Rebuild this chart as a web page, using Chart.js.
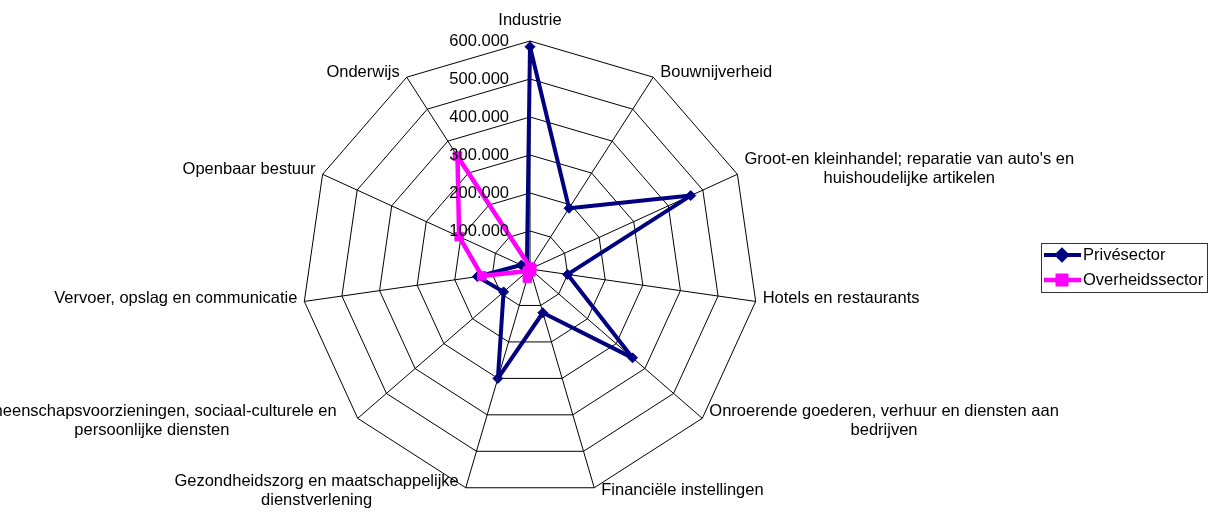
<!DOCTYPE html>
<html>
<head>
<meta charset="utf-8">
<script src="https://cdn.jsdelivr.net/npm/chart.js@4/dist/chart.umd.min.js"></script>
<style>
  html, body { margin: 0; padding: 0; background: #fff; }
  #wrap { width: 1211px; height: 512px; position: relative; }
</style>
</head>
<body>
<div id="wrap"><canvas id="c"></canvas></div>
<script>
// ---- data ----
const categories = [
  'Industrie',
  'Bouwnijverheid',
  ['Groot-en kleinhandel; reparatie van auto\'s en', 'huishoudelijke artikelen'],
  'Hotels en restaurants',
  ['Onroerende goederen, verhuur en diensten aan', 'bedrijven'],
  'Financiële instellingen',
  ['Gezondheidszorg en maatschappelijke', 'dienstverlening'],
  ['Gemeenschapsvoorzieningen, sociaal-culturele en', 'persoonlijke diensten'],
  'Vervoer, opslag en communicatie',
  'Openbaar bestuur',
  'Onderwijs'
];
const seriesNames = ['Privésector', 'Overheidssector'];
const priveValues = [585000, 190000, 465000, 100000, 357000, 120000, 300000, 92000, 140000, 25000, 15000];
const overheidValues = [5000, 3000, 5000, 2000, 5000, 8000, 25000, 8000, 128000, 205000, 353000];
const tickValues = [100000, 200000, 300000, 400000, 500000, 600000];
const tickLabels = ['100.000', '200.000', '300.000', '400.000', '500.000', '600.000'];

// ---- styling ----
const FONT = '16.5px "Liberation Sans", Arial, sans-serif';
const labelNudge = { 7: -14 };

const pointLabelPlugin = {
  id: 'pointLabelPlugin',
  afterDraw(chart) {
    const s = chart.scales.r;
    const ctx = chart.ctx;
    ctx.save();
    ctx.font = FONT;
    ctx.fillStyle = '#000';
    ctx.textBaseline = 'middle';
    ctx.textAlign = 'center';
    const R = s.drawingArea;
    const n = categories.length;
    const lh = 19;
    categories.forEach((lab, i) => {
      const lines = Array.isArray(lab) ? lab : [lab];
      const p = s.getPointPosition(i, R);
      const ang = i * 360 / n;
      const c = Math.cos(ang * Math.PI / 180);
      const bw = Math.max(...lines.map(l => ctx.measureText(l).width));
      let cx, cy;
      if (i === 0) { cx = p.x; cy = p.y - 21; }
      else {
        cx = ang < 180 ? p.x + 7 + bw / 2 : p.x - 7 - bw / 2;
        cy = p.y + (c > 0.3 ? -5 : (c < -0.3 ? 3 : -3));
      }
      cx += labelNudge[i] || 0;
      lines.forEach((l, k) => ctx.fillText(l, cx, cy + (k - (lines.length - 1) / 2) * lh));
    });
    ctx.restore();
  }
};

const tickLabelPlugin = {
  id: 'tickLabelPlugin',
  afterDatasetsDraw(chart) {
    const s = chart.scales.r;
    const ctx = chart.ctx;
    ctx.save();
    ctx.font = FONT;
    ctx.fillStyle = '#000';
    ctx.textAlign = 'right';
    ctx.textBaseline = 'middle';
    tickValues.forEach((v, i) => {
      const d = s.getDistanceFromCenterForValue(v);
      ctx.fillText(tickLabels[i], s.xCenter - 21, s.yCenter - d);
    });
    ctx.restore();
  }
};

const legendPlugin = {
  id: 'legendPlugin',
  afterDraw(chart) {
    const ctx = chart.ctx;
    const bx = 1041, by = 243, bw = 166, bh = 49;
    ctx.save();
    ctx.fillStyle = '#fff';
    ctx.fillRect(bx, by, bw, bh);
    ctx.strokeStyle = '#333';
    ctx.lineWidth = 1;
    ctx.strokeRect(bx + 0.5, by + 0.5, bw, bh);
    ctx.font = FONT;
    ctx.textBaseline = 'middle';
    ctx.textAlign = 'left';
    chart.data.datasets.forEach((ds, i) => {
      const y = by + 12 + i * 25;
      ctx.strokeStyle = ds.borderColor;
      ctx.lineWidth = ds.borderWidth;
      ctx.beginPath();
      ctx.moveTo(bx + 3, y);
      ctx.lineTo(bx + 40, y);
      ctx.stroke();
      Chart.helpers.drawPoint(ctx, {
        pointStyle: ds.pointStyle, radius: ds.pointRadius, borderWidth: 1, rotation: 0
      }, bx + 21, y);
      ctx.fillStyle = ds.borderColor;
      ctx.strokeStyle = ds.borderColor;
      ctx.fill();
      ctx.fillStyle = '#000';
      ctx.fillText(ds.label, bx + 42, y);
    });
    ctx.restore();
  }
};

new Chart(document.getElementById('c'), {
  type: 'radar',
  data: {
    labels: categories,
    datasets: [
      {
        label: seriesNames[0],
        data: priveValues,
        borderColor: '#000080',
        backgroundColor: '#000080',
        pointBackgroundColor: '#000080',
        pointBorderColor: '#000080',
        borderWidth: 4,
        borderJoinStyle: 'round',
        pointStyle: 'rectRot',
        pointRadius: 5,
        pointBorderWidth: 1,
        fill: false,
        tension: 0,
        order: 1
      },
      {
        label: seriesNames[1],
        data: overheidValues,
        borderColor: '#FF00FF',
        backgroundColor: '#FF00FF',
        pointBackgroundColor: '#FF00FF',
        pointBorderColor: '#FF00FF',
        borderWidth: 4.5,
        borderJoinStyle: 'round',
        pointStyle: 'rect',
        pointRadius: 6,
        pointBorderWidth: 1,
        fill: false,
        tension: 0,
        order: 0
      }
    ]
  },
  options: {
    responsive: true,
    maintainAspectRatio: false,
    animation: false,
    layout: { padding: { left: 0, right: 151, top: 41, bottom: 15 } },
    plugins: {
      legend: { display: false },
      tooltip: { enabled: false }
    },
    scales: {
      r: {
        min: 0,
        max: 600000,
        ticks: { stepSize: 100000, display: false },
        grid: { color: '#000', lineWidth: 1 },
        angleLines: { color: '#000', lineWidth: 1 },
        pointLabels: { display: false }
      }
    }
  },
  plugins: [pointLabelPlugin, tickLabelPlugin, legendPlugin]
});
</script>
</body>
</html>
